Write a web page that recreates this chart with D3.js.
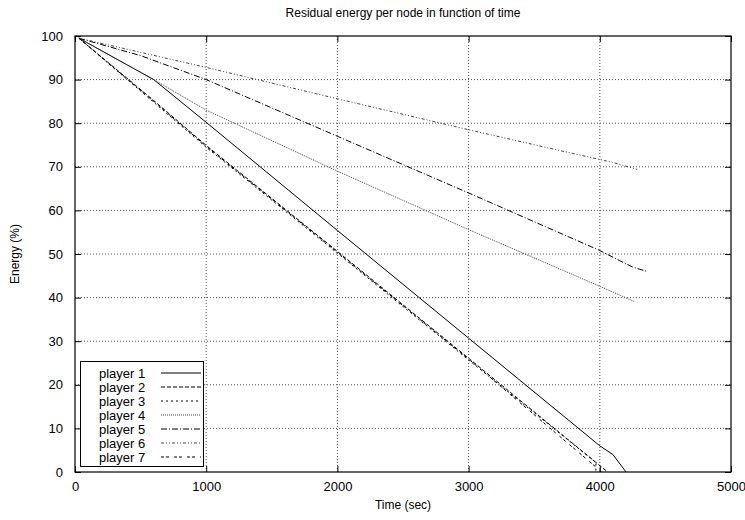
<!DOCTYPE html>
<html lang="en">
<head>
<meta charset="utf-8">
<title>Residual energy</title>
<style>
body { margin: 0; background: #fff; font-family: "Liberation Sans", Arial, sans-serif; }
svg text { font-family: "Liberation Sans", Arial, sans-serif; fill: #000; }
</style>
</head>
<body>
<svg id="chart" width="745" height="520"></svg>
<script src="https://cdn.jsdelivr.net/npm/d3@7"></script>
<script>

// time (sec) and residual energy (%) for each player
var player1T = [30, 600, 1000, 2000, 3000, 4000, 4100, 4200];
var player1E = [99.5, 90, 80.2, 55.4, 30.7, 6, 4, 0];
var player2T = [30, 600, 1000, 2000, 3000, 4060];
var player2E = [99.5, 85.2, 74.9, 50.6, 26.1, 0];
var player3T = [30, 600, 1000, 2000, 3000, 3970, 3970];
var player3E = [99.5, 84.8, 74.5, 50.2, 25.7, 2.2, 0];
var player4T = [30, 600, 1000, 2000, 3000, 4000, 4270];
var player4E = [99.5, 90, 83, 69, 55.6, 42.6, 39];
var player5T = [30, 500, 1000, 2000, 3000, 4000, 4150, 4250, 4360];
var player5E = [99.5, 95.5, 90, 77, 64, 50.8, 48.5, 47, 46];
var player6T = [30, 1000, 2000, 3000, 3700, 4100, 4285];
var player6E = [99.5, 92.8, 85.6, 78.5, 73.7, 71, 69.4];
var player7T = [30, 600, 1000, 2000, 3000, 4015];
var player7E = [99.5, 85.0, 74.7, 50.4, 25.9, 0];

var seriesNames = ["player 1", "player 2", "player 3", "player 4", "player 5", "player 6", "player 7"];
var xTicks = [0, 1000, 2000, 3000, 4000, 5000];
var yTicks = [0, 10, 20, 30, 40, 50, 60, 70, 80, 90, 100];

var dashes = ["none", "4,2", "2,3", "1,1", "6,2,1,2", "3,2,1,2,1,2", "3,2,3,5"];
var seriesT = [player1T, player2T, player3T, player4T, player5T, player6T, player7T];
var seriesE = [player1E, player2E, player3E, player4E, player5E, player6E, player7E];

var padL = 75, padR = 731, padT = 36, padB = 472;

var svg = d3.select("#chart");
var x = d3.scaleLinear().domain([0, 5000]).range([padL, padR]);
var y = d3.scaleLinear().domain([0, 100]).range([padB, padT]);

// grid
svg.append("g").selectAll("line").data(xTicks.slice(1, -1)).enter().append("line")
  .attr("x1", function(d) { return x(d); }).attr("x2", function(d) { return x(d); })
  .attr("y1", padT).attr("y2", padB)
  .attr("stroke", "#555").attr("stroke-dasharray", "1,2");
svg.append("g").selectAll("line").data(yTicks.slice(1, -1)).enter().append("line")
  .attr("x1", padL).attr("x2", padR)
  .attr("y1", function(d) { return y(d); }).attr("y2", function(d) { return y(d); })
  .attr("stroke", "#555").attr("stroke-dasharray", "1,2");

// axes, ticks inside like gnuplot
svg.append("g").attr("transform", "translate(0," + padB + ")")
  .call(d3.axisBottom(x).tickValues(xTicks).tickSize(-6).tickPadding(10).tickFormat(d3.format("d")))
  .call(function(g) { g.select(".domain").remove(); });
svg.append("g").attr("transform", "translate(0," + padT + ")")
  .call(d3.axisTop(x).tickValues(xTicks).tickSize(-6).tickFormat(""))
  .call(function(g) { g.select(".domain").remove(); });
svg.append("g").attr("transform", "translate(" + padL + ",0)")
  .call(d3.axisLeft(y).tickValues(yTicks).tickSize(-6).tickPadding(12).tickFormat(d3.format("d")))
  .call(function(g) { g.select(".domain").remove(); });
svg.append("g").attr("transform", "translate(" + padR + ",0)")
  .call(d3.axisRight(y).tickValues(yTicks).tickSize(-6).tickFormat(""))
  .call(function(g) { g.select(".domain").remove(); });
svg.selectAll(".tick text").style("font-size", "13px").attr("fill", "#000");
svg.selectAll(".tick line").attr("stroke", "#000");

// lines
var line = d3.line().x(function(d) { return x(d[0]); }).y(function(d) { return y(d[1]); });
seriesT.forEach(function(ts, i) {
  var pts = ts.map(function(t, j) { return [t, seriesE[i][j]]; });
  svg.append("path").datum(pts).attr("d", line)
    .attr("fill", "none").attr("stroke", i == 3 || i == 5 ? "#444" : "#000")
    .attr("stroke-width", 1).attr("stroke-dasharray", dashes[i]);
});

// frame
svg.append("rect").attr("x", padL).attr("y", padT)
  .attr("width", padR - padL).attr("height", padB - padT)
  .attr("fill", "none").attr("stroke", "#000").attr("stroke-width", 1.2);

// legend
var legend = svg.append("g");
legend.append("rect").attr("x", 80.5).attr("y", 361.5).attr("width", 123).attr("height", 105)
  .attr("fill", "#fff").attr("stroke", "#000");
seriesNames.forEach(function(name, i) {
  var cy = 373 + i * 14;
  legend.append("text").attr("x", 99).attr("y", cy + 4.5).style("font-size", "13px").text(name);
  legend.append("line").attr("x1", 161).attr("x2", 201).attr("y1", cy).attr("y2", cy)
    .attr("stroke", i == 3 || i == 5 ? "#444" : "#000").attr("stroke-dasharray", dashes[i]);
});

// titles
svg.append("text").attr("x", 403).attr("y", 17).attr("text-anchor", "middle")
  .style("font-size", "12px").text("Residual energy per node in function of time");
svg.append("text").attr("x", 403).attr("y", 509).attr("text-anchor", "middle")
  .style("font-size", "12px").text("Time (sec)");
svg.append("text").attr("transform", "translate(19,254) rotate(-90)").attr("text-anchor", "middle")
  .style("font-size", "12px").text("Energy (%)");

</script>
</body>
</html>
